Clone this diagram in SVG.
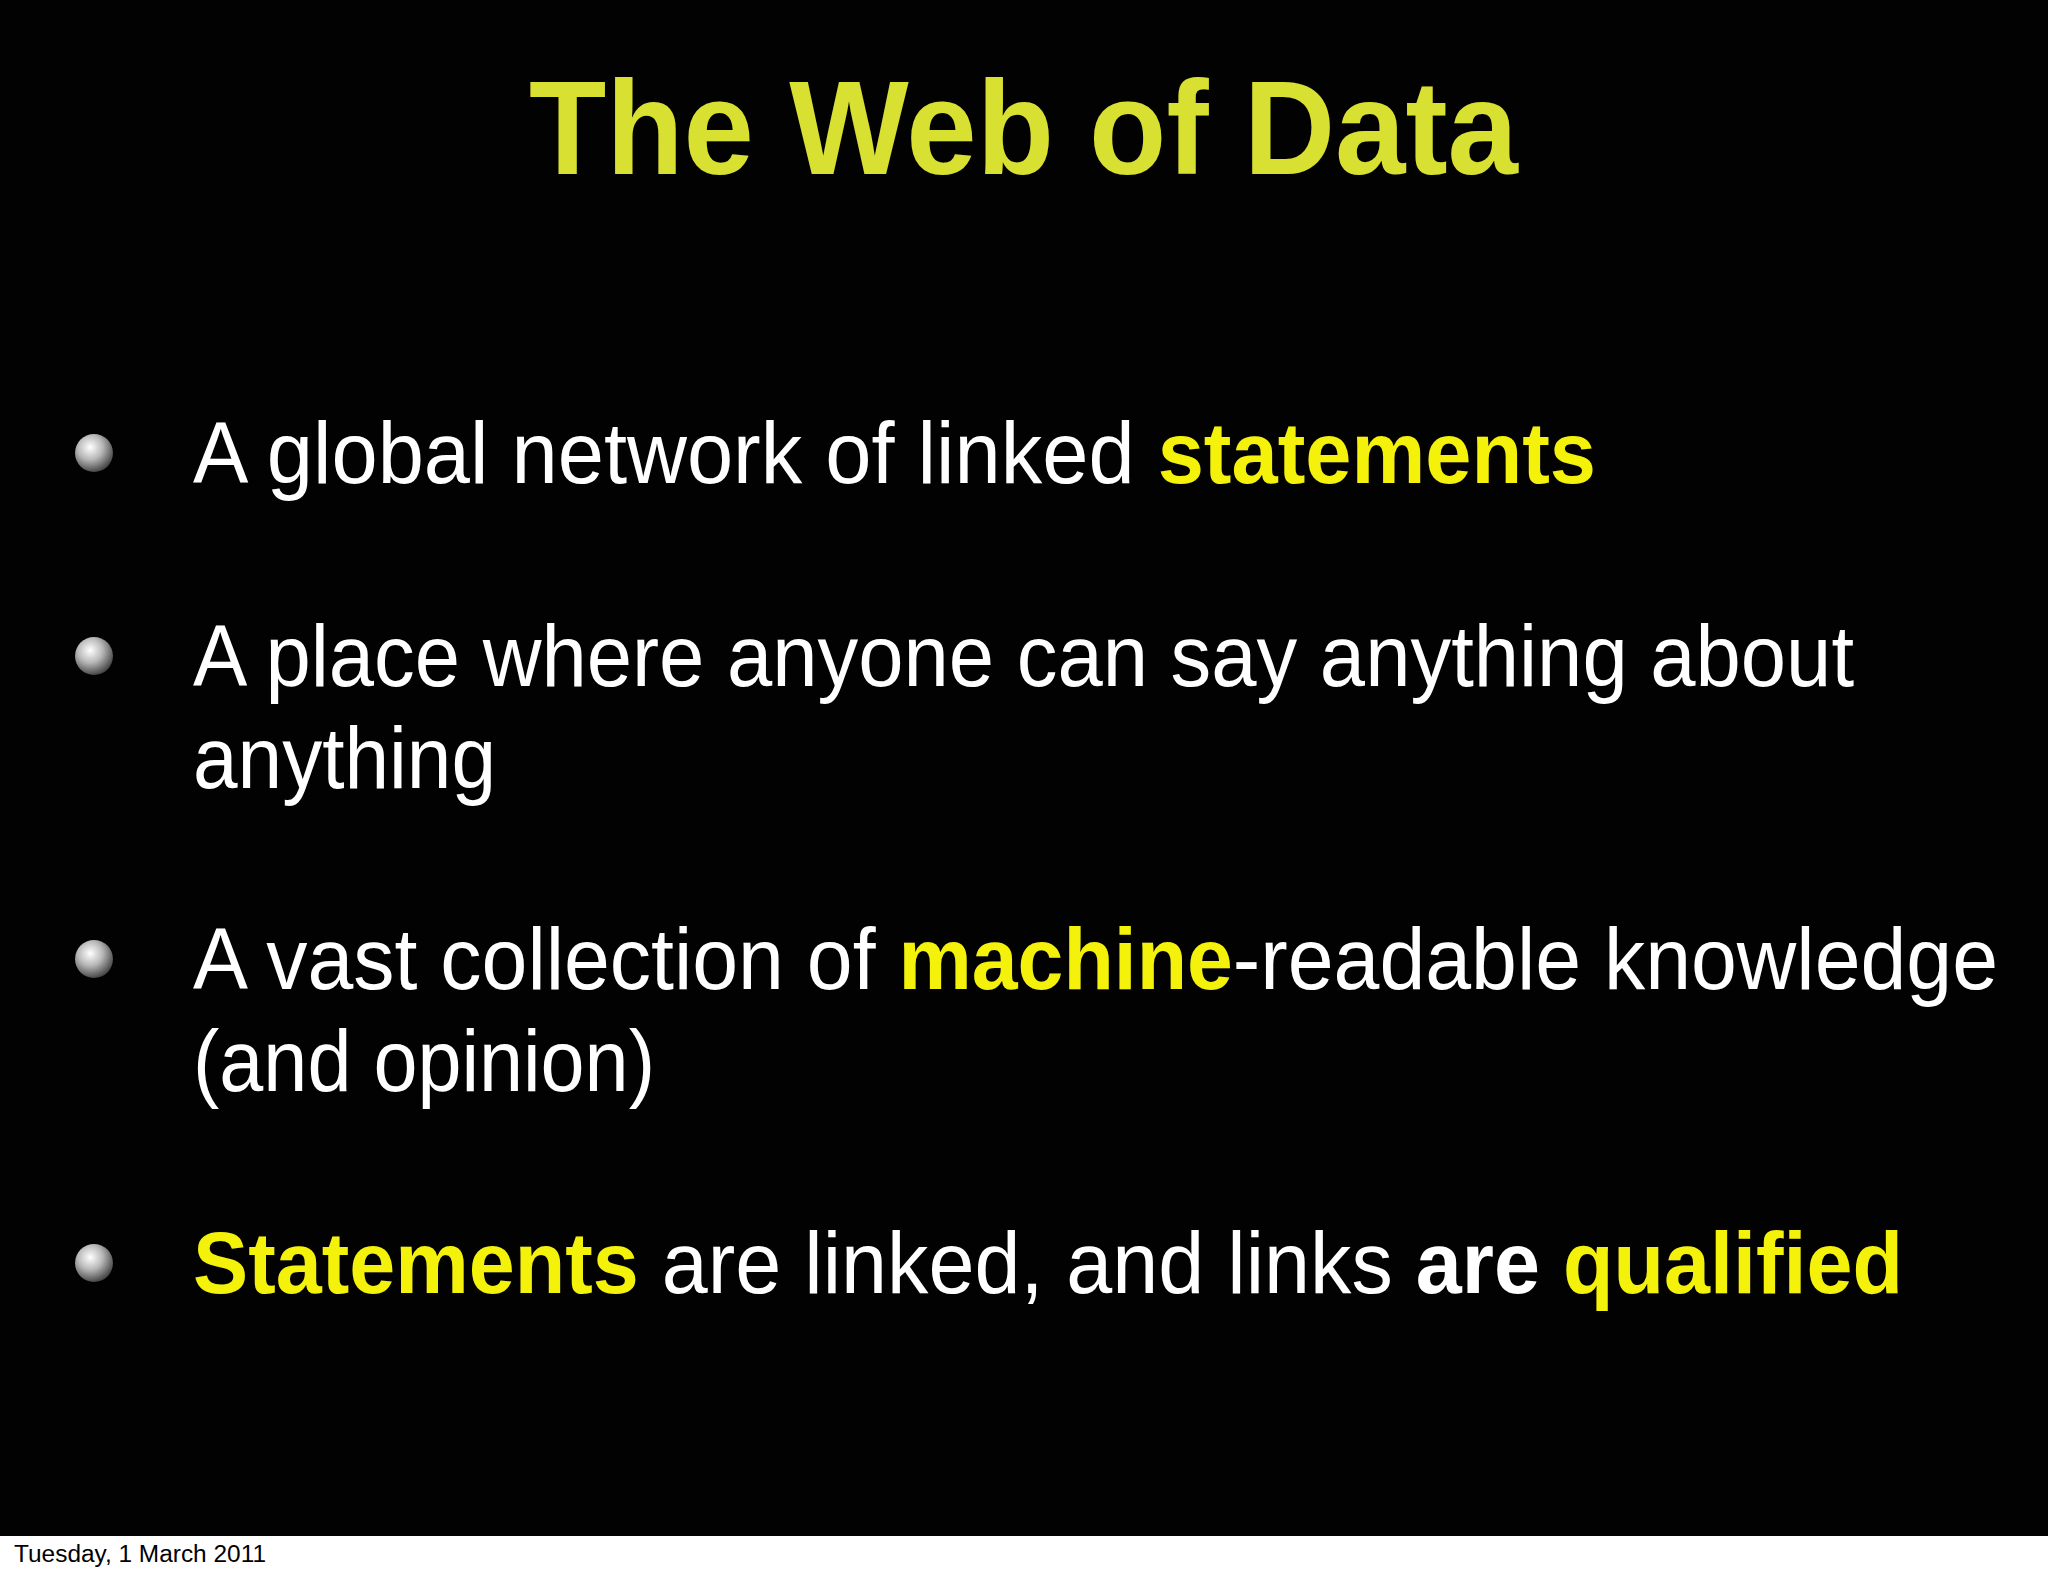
<svg xmlns="http://www.w3.org/2000/svg" width="2048" height="1576" viewBox="0 0 2048 1576">
<defs>
<radialGradient id="ball" cx="0.4" cy="0.35" r="0.65">
<stop offset="0" stop-color="#ffffff"/>
<stop offset="0.5" stop-color="#b8b8b8"/>
<stop offset="1" stop-color="#4a4a4a"/>
</radialGradient>
</defs>
<style>
.t{font-family:"Liberation Sans",Arial,sans-serif;font-size:88px;fill:#ffffff}
.y{fill:#f4f20a;font-weight:bold}
.w{font-weight:bold}
</style>
<rect width="2048" height="1576" fill="#ffffff"/>
<rect width="2048" height="1536" fill="#030203"/>
<text x="529" y="174" textLength="989" lengthAdjust="spacingAndGlyphs" font-family="'Liberation Sans',Arial,sans-serif" font-weight="bold" font-size="134" fill="#d8e031">The Web of Data</text>
<g id="bullets">
<circle cx="94" cy="453" r="19" fill="url(#ball)"/>
<circle cx="94" cy="656" r="19" fill="url(#ball)"/>
<circle cx="94" cy="959" r="19" fill="url(#ball)"/>
<circle cx="94" cy="1263" r="19" fill="url(#ball)"/>
</g>
<text class="t" x="193" y="483" textLength="1403" lengthAdjust="spacingAndGlyphs">A global network of linked <tspan class="y">statements</tspan></text>
<text class="t" x="193" y="686" textLength="1661" lengthAdjust="spacingAndGlyphs">A place where anyone can say anything about</text>
<text class="t" x="193" y="788" textLength="303" lengthAdjust="spacingAndGlyphs">anything</text>
<text class="t" x="193" y="989" textLength="1805" lengthAdjust="spacingAndGlyphs">A vast collection of <tspan class="y">machine</tspan>-readable knowledge</text>
<text class="t" x="193" y="1091" textLength="462" lengthAdjust="spacingAndGlyphs">(and opinion)</text>
<text class="t" x="193" y="1293" textLength="1710" lengthAdjust="spacingAndGlyphs"><tspan class="y">Statements</tspan> are linked, and links <tspan class="w">are</tspan> <tspan class="y">qualified</tspan></text>
<text x="14" y="1562" textLength="252" lengthAdjust="spacingAndGlyphs" font-family="'Liberation Sans',Arial,sans-serif" font-size="23" fill="#000000">Tuesday, 1 March 2011</text>
</svg>
